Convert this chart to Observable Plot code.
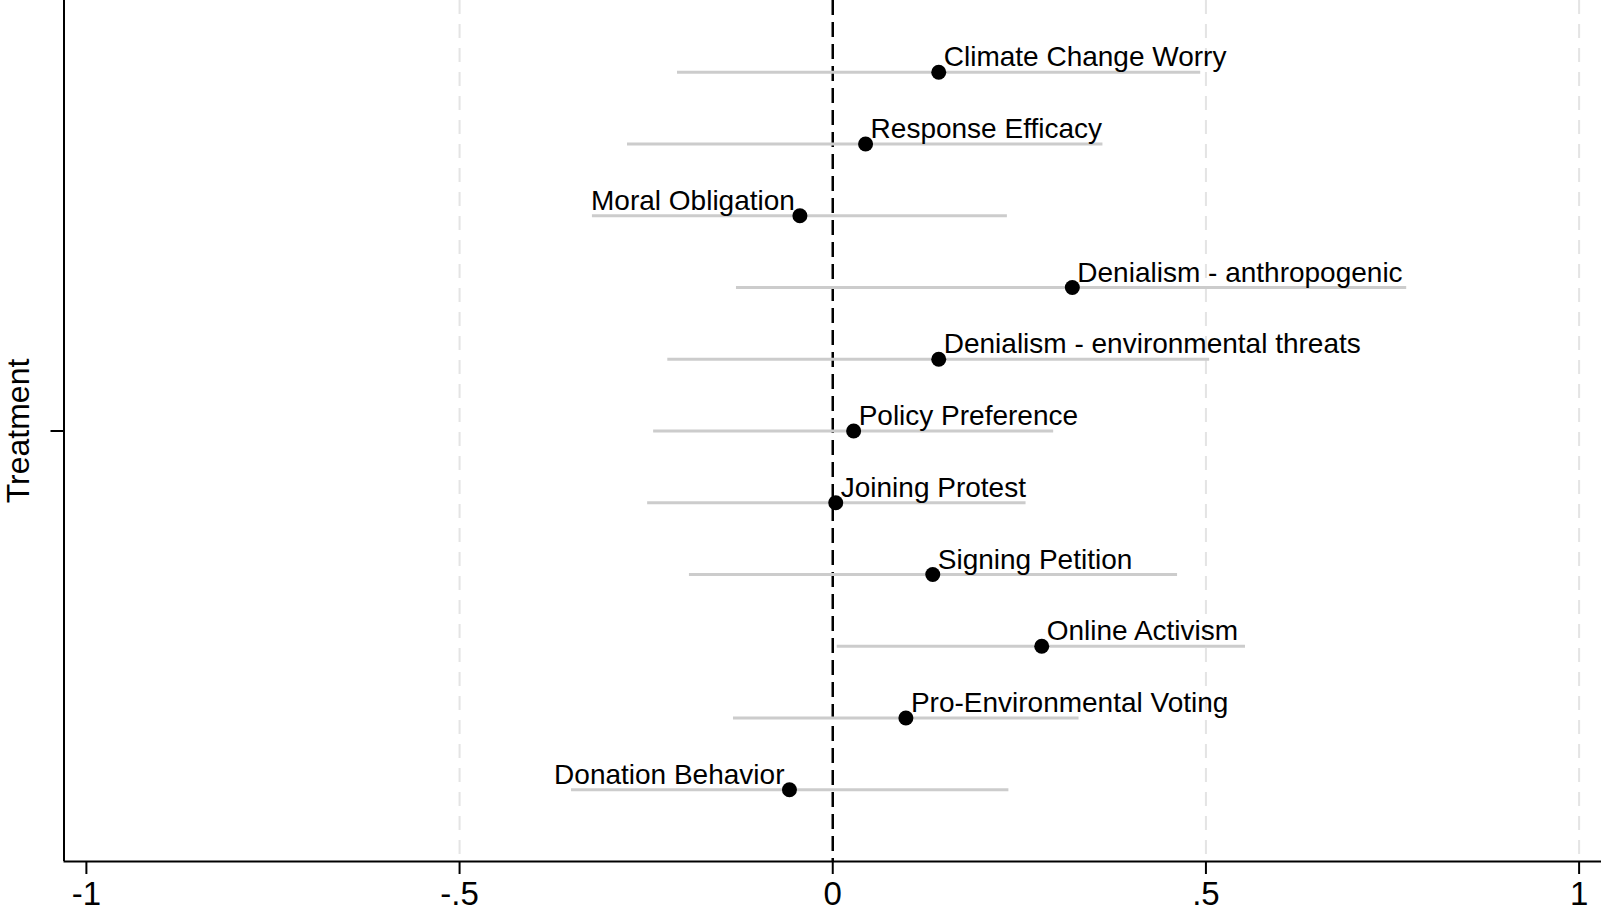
<!DOCTYPE html>
<html><head><meta charset="utf-8">
<script src="https://cdn.jsdelivr.net/npm/d3@7"></script>
<script src="https://cdn.jsdelivr.net/npm/@observablehq/plot@0.6"></script>
<style>html,body{margin:0;padding:0;background:#fff;} svg{display:block;}</style>
</head><body><div id="chart"></div>
<script>
const outcomes = [
  "Climate Change Worry",
  "Response Efficacy",
  "Moral Obligation",
  "Denialism - anthropogenic",
  "Denialism - environmental threats",
  "Policy Preference",
  "Joining Protest",
  "Signing Petition",
  "Online Activism",
  "Pro-Environmental Voting",
  "Donation Behavior"
];
const estimates = [0.142, 0.044, -0.044, 0.321, 0.142, 0.028, 0.004, 0.134, 0.280, 0.098, -0.058];
const ciLow     = [-0.208, -0.275, -0.322, -0.129, -0.221, -0.240, -0.248, -0.192, 0.006, -0.133, -0.350];
const ciHigh    = [0.493, 0.362, 0.234, 0.769, 0.505, 0.296, 0.259, 0.462, 0.553, 0.330, 0.236];
const xTicks = [-1, -0.5, 0, 0.5, 1];
const gridValues = [-0.5, 0.5, 1];
const rowAxisLabel = "Treatment";

const rows = outcomes.map((name, i) => ({name, row: i + 1, est: estimates[i], lo: ciLow[i], hi: ciHigh[i]}));
const xDomain = [-1.03, 1.03];
const yDomain = [0, outcomes.length + 1];
const yMid = (outcomes.length + 1) / 2;
const fmt = d => d === 0 ? "0" : String(d).replace("0.", ".");

const chart = Plot.plot({
  width: 1605,
  height: 914,
  marginLeft: 63.5,
  marginRight: 4,
  marginTop: 0,
  marginBottom: 53,
  style: {fontFamily: "'Liberation Sans', Arial, Helvetica, sans-serif", fontSize: "33px", background: "white", color: "black"},
  x: {domain: xDomain, label: null},
  y: {domain: yDomain, reverse: true, label: null},
  marks: [
    Plot.gridX(gridValues, {stroke: "#e4e4e4", strokeOpacity: 1, strokeWidth: 2, strokeDasharray: "14,10"}),
    Plot.ruleX([0], {stroke: "black", strokeWidth: 2.5, strokeDasharray: "15,7"}),
    Plot.ruleY(rows, {y: "row", x1: "lo", x2: "hi", stroke: "#cccccc", strokeWidth: 3}),
    Plot.dot(rows, {x: "est", y: "row", r: 7.5, fill: "black", stroke: null}),
    Plot.text(rows.filter(d => d.est >= 0), {x: "est", y: "row", text: "name", textAnchor: "start", lineAnchor: "bottom", dx: 5, dy: -6, fontSize: 28, fill: "black"}),
    Plot.text(rows.filter(d => d.est < 0), {x: "est", y: "row", text: "name", textAnchor: "end", lineAnchor: "bottom", dx: -5, dy: -6, fontSize: 28, fill: "black"}),
    Plot.ruleY([yDomain[1]], {stroke: "black", strokeWidth: 2}),
    Plot.ruleX([xDomain[0]], {stroke: "black", strokeWidth: 2}),
    Plot.axisX(xTicks, {tickSize: 13, tickPadding: 7, tickFormat: fmt, fontSize: 33, strokeWidth: 2, label: null}),
    Plot.axisY([yMid], {tickSize: 13, tickFormat: () => "", strokeWidth: 2, label: null}),
    Plot.text([yMid], {y: d => d, frameAnchor: "left", dx: -45, rotate: -90, textAnchor: "middle", lineAnchor: "middle", text: () => rowAxisLabel, fontSize: 32, fill: "black"})
  ]
});
document.getElementById("chart").appendChild(chart);
</script>
</body></html>
